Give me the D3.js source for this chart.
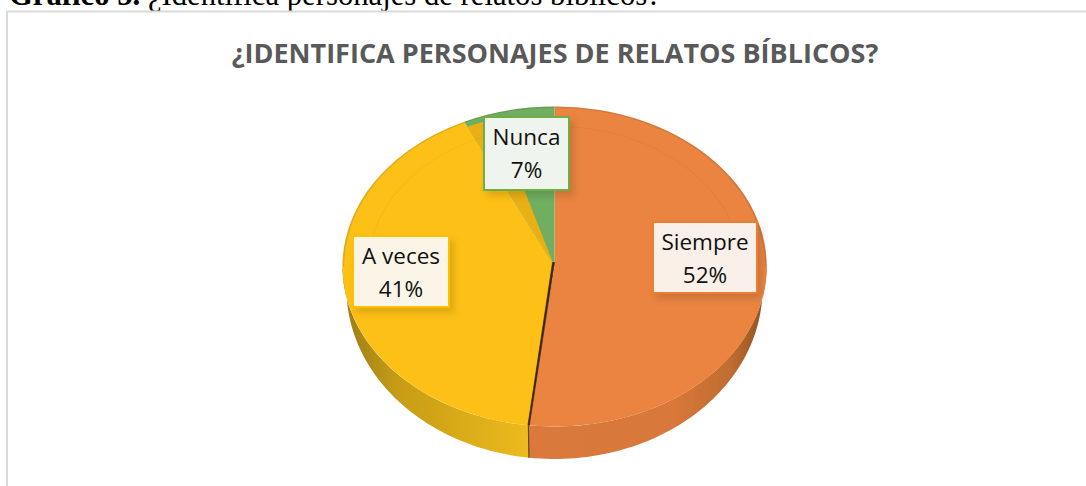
<!DOCTYPE html>
<html>
<head>
<meta charset="utf-8">
<script src="https://cdn.jsdelivr.net/npm/d3@7"></script>
<style>
  html, body { margin: 0; padding: 0; background: #fff; overflow: hidden; }
</style>
</head>
<body>
<div id="chart"></div>
<script>
const categories = ['Siempre', 'A veces', 'Nunca']
const percents = [52, 41, 7]
const chartTitle = '¿IDENTIFICA PERSONAJES DE RELATOS BÍBLICOS?'
const captionBold = 'Gráfico 5.'
const captionText = ' ¿Identifica personajes de relatos bíblicos?'

const width = 1086
const height = 486

// pie geometry
const cx = 554.5
const cy = 266.5
const rx = 212
const ry = 160
// the bottom rim is a slightly narrower, lower ellipse
const bottomRx = 208
const bottomRy = 170.5
const bottomCy = 288.5

const topColor = d3.scaleOrdinal().domain(categories).range(['#ea8441', '#fdc017', '#6fae60'])
const edgeColor = d3.scaleOrdinal().domain(categories).range(['#ed7d31', '#ffc000', '#70ad47'])
const boxFill = d3.scaleOrdinal().domain(categories).range(['#f9f0ea', '#fbf5e8', '#f0f4ee'])
const wallStops = d3.scaleOrdinal().domain(categories).range([
  [[0, '#d9793b'], [0.6, '#d9783a'], [0.85, '#c06c30'], [1, '#8a5424']],
  [[0, '#9a7c14'], [0.3, '#c79c18'], [1, '#edbb1b']],
  [[0, '#5c8f3c'], [1, '#5c8f3c']]
])
// label box [left, top, right, bottom]
const boxes = d3.scaleOrdinal().domain(categories).range([
  [653, 222, 757, 293],
  [353, 236, 449, 307],
  [484, 117, 569, 190]
])

let svg = d3
  .select('#chart')
  .append('svg')
  .attr('width', width)
  .attr('height', height)
  .style('display', 'block')

let defs = svg.append('defs')

let soft = defs.append('filter').attr('id', 'soft')
soft.append('feGaussianBlur').attr('stdDeviation', 0.5)

let shadow = defs
  .append('filter')
  .attr('id', 'box-shadow')
  .attr('x', '-20%')
  .attr('y', '-20%')
  .attr('width', '140%')
  .attr('height', '140%')
shadow
  .append('feDropShadow')
  .attr('dx', 4)
  .attr('dy', 5)
  .attr('stdDeviation', 3.5)
  .attr('flood-color', '#000')
  .attr('flood-opacity', 0.13)

// caption cut off by the top of the page, same as the reference
let caption = svg
  .append('text')
  .attr('x', 9)
  .attr('y', 5)
  .attr('font-family', 'Liberation Serif')
  .attr('font-size', 30.7)
  .attr('fill', '#000')
caption.append('tspan').attr('font-weight', 'bold').text(captionBold)
caption.append('tspan').attr('xml:space', 'preserve').text(captionText)

// chart frame, open on the right and at the bottom
svg
  .append('path')
  .attr('d', `M7,${height}V11.5H${width}`)
  .attr('fill', 'none')
  .attr('stroke', '#d9d9d9')
  .attr('stroke-width', 2)

svg
  .append('text')
  .attr('x', 555)
  .attr('y', 63)
  .attr('text-anchor', 'middle')
  .attr('font-family', 'Open Sans')
  .attr('font-weight', 'bold')
  .attr('font-size', 27)
  .attr('fill', '#595959')
  .text(chartTitle)

let pie = d3
  .pie()
  .sort(null)
  .value((d, i) => percents[i])
let slices = pie(categories)

let chart = svg.append('g').attr('filter', 'url(#soft)')

// side wall, only the part that faces the viewer
let wallArea = d3
  .area()
  .x0(a => cx + rx * Math.sin(a))
  .y0(a => cy - ry * Math.cos(a))
  .x1(a => cx + bottomRx * Math.sin(a))
  .y1(a => bottomCy - bottomRy * Math.cos(a))

slices.forEach(s => {
  let from = Math.max(s.startAngle, Math.PI / 2)
  let to = Math.min(s.endAngle, Math.PI * 1.5)
  if (from >= to) return

  let id = 'wall-' + s.index
  let grad = defs
    .append('linearGradient')
    .attr('id', id)
    .attr('gradientUnits', 'userSpaceOnUse')
    .attr('x1', s.data === 'Siempre' ? cx - 26 : cx - rx)
    .attr('x2', s.data === 'Siempre' ? cx + rx : cx - 26)
    .attr('y1', 0)
    .attr('y2', 0)
  grad
    .selectAll('stop')
    .data(wallStops(s.data))
    .enter()
    .append('stop')
    .attr('offset', d => d[0])
    .attr('stop-color', d => d[1])

  let n = 60
  let angles = d3.range(n + 1).map(i => from + ((to - from) * i) / n)
  chart
    .append('path')
    .attr('d', wallArea(angles))
    .attr('fill', `url(#${id})`)
})

// top face
let arc = d3.arc().innerRadius(0).outerRadius(1)
let face = chart.append('g').attr('transform', `translate(${cx},${cy}) scale(${rx},${ry})`)

face
  .selectAll('.slice')
  .data(slices)
  .enter()
  .append('path')
  .attr('class', 'slice')
  .attr('d', arc)
  .attr('fill', d => topColor(d.data))

// darker band along the edge between A veces and Nunca
let nunca = slices[2]
face
  .append('path')
  .attr(
    'd',
    d3.arc()({
      innerRadius: 0,
      outerRadius: 0.965,
      startAngle: nunca.startAngle,
      endAngle: nunca.startAngle + (nunca.endAngle - nunca.startAngle) * 0.34
    })
  )
  .attr('fill', '#e9b013')

// faint bevel ring and dusky rim, upper half only
let upper = [[-Math.PI / 2, 0], [0, Math.PI / 2]]
face
  .selectAll('.bevel')
  .data(upper)
  .enter()
  .append('path')
  .attr('class', 'bevel')
  .attr('d', d =>
    d3.arc()({ innerRadius: 0.875, outerRadius: 0.88, startAngle: d[0], endAngle: d[1] })
  )
  .attr('fill', '#000')
  .attr('opacity', 0.04)
face
  .selectAll('.rim')
  .data(upper)
  .enter()
  .append('path')
  .attr('class', 'rim')
  .attr('d', d =>
    d3.arc()({ innerRadius: 0.992, outerRadius: 1, startAngle: d[0], endAngle: d[1] })
  )
  .attr('fill', '#5a4a30')
  .attr('opacity', 0.18)

// dark seam between Siempre and A veces
let seam = slices[0].endAngle
let seamX = cx + rx * Math.sin(seam)
let seamY = cy - ry * Math.cos(seam)
let seamBottomX = cx + bottomRx * Math.sin(seam)
let seamBottomY = bottomCy - bottomRy * Math.cos(seam)
chart
  .append('path')
  .attr('d', `M${cx},${cy - 4}L${cx - 2},${cy - 4}L${seamX},${seamY}L${seamX + 1.4},${seamY}Z`)
  .attr('fill', '#3a2208')
  .attr('stroke', '#3a2208')
  .attr('stroke-width', 0.6)
chart
  .append('path')
  .attr('d', `M${seamX + 0.5},${seamY}L${seamBottomX + 0.5},${seamBottomY}`)
  .attr('stroke', '#6a4412')
  .attr('stroke-width', 1.2)

// data labels
let labels = svg
  .selectAll('.label')
  .data(slices)
  .enter()
  .append('g')
  .attr('class', 'label')

labels
  .append('rect')
  .attr('x', d => boxes(d.data)[0])
  .attr('y', d => boxes(d.data)[1])
  .attr('width', d => boxes(d.data)[2] - boxes(d.data)[0])
  .attr('height', d => boxes(d.data)[3] - boxes(d.data)[1])
  .attr('fill', d => boxFill(d.data))
  .attr('stroke', d => edgeColor(d.data))
  .attr('stroke-width', 2)
  .attr('filter', 'url(#box-shadow)')

labels.each(function(d) {
  let g = d3.select(this)
  let b = boxes(d.data)
  let mid = (b[0] + b[2]) / 2

  g.append('text')
    .text(d.data)
    .attr('x', mid)
    .attr('y', b[1] + 28)
  g.append('text')
    .text(d.value + '%')
    .attr('x', mid)
    .attr('y', b[1] + 61)
})

labels
  .selectAll('text')
  .attr('text-anchor', 'middle')
  .attr('font-family', 'Open Sans')
  .attr('font-size', 22.5)
  .attr('fill', '#111')
</script>
</body>
</html>
